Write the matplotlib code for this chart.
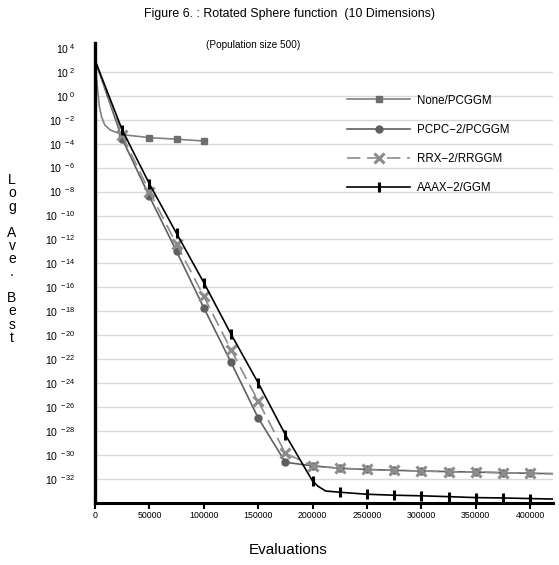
import numpy as np
import matplotlib
matplotlib.use("Agg")
import matplotlib.pyplot as plt
from matplotlib.legend_handler import HandlerLine2D
from matplotlib.ticker import FuncFormatter, FixedLocator

plt.rcParams['font.family'] = ['Liberation Sans', 'DejaVu Sans']
plt.rcParams['mathtext.fontset'] = 'custom'
plt.rcParams['mathtext.rm'] = 'Liberation Sans'
plt.rcParams['mathtext.it'] = 'Liberation Sans:italic'
plt.rcParams['mathtext.bf'] = 'Liberation Sans:bold'

# data (log10 of average best)
marker_evals = [25000, 50000, 75000, 100000, 125000, 150000, 175000, 200000,
                225000, 250000, 275000, 300000, 325000, 350000, 375000, 400000]

none_x = [0, 2000, 4000, 6000, 9000, 14000, 25000, 50000, 75000, 100000]
none_log = [2.97, 0.9, -0.9, -1.75, -2.45, -2.86, -3.25, -3.5, -3.63, -3.78]

pcpc_x = [0, 25000, 50000, 75000, 100000, 125000, 150000, 175000, 200000,
          225000, 250000, 275000, 300000, 325000, 350000, 375000, 400000, 425000]
pcpc_log = [2.97, -3.6, -8.4, -13.0, -17.7, -22.25, -26.9, -30.6, -30.9,
            -31.1, -31.2, -31.27, -31.33, -31.38, -31.42, -31.47, -31.52, -31.56]

rrx_x = pcpc_x
rrx_log = [2.97, -3.3, -8.0, -12.4, -16.75, -21.2, -25.5, -29.85, -30.9,
           -31.1, -31.2, -31.27, -31.33, -31.38, -31.42, -31.47, -31.52, -31.56]

aaax_x = [0, 25000, 50000, 75000, 100000, 125000, 150000, 175000, 200000,
          205000, 212000, 225000, 250000, 275000, 300000, 325000, 350000,
          375000, 400000, 425000]
aaax_log = [2.97, -2.86, -7.36, -11.5, -15.6, -19.9, -23.97, -28.3, -32.17,
            -32.6, -33.0, -33.1, -33.27, -33.35, -33.4, -33.47, -33.55,
            -33.58, -33.63, -33.68]

ytick_exp = list(range(-32, 5, 2))
xticks = [0, 50000, 100000, 150000, 200000, 250000, 300000, 350000, 400000]


def marks(x):
    return [i for i, v in enumerate(x) if v in marker_evals]


class RightMarker(HandlerLine2D):
    # put the legend marker near the right end of the line, like Excel
    def get_xdata(self, legend, xdescent, ydescent, width, height, fontsize):
        xdata = np.array([-xdescent, -xdescent + width])
        return xdata, np.array([-xdescent + width * 0.87])


fig = plt.figure(figsize=(5.59, 5.65), dpi=100)
ax = fig.add_axes([95 / 559, 1 - 503 / 565, 458 / 559, 460 / 565])

ax.plot(none_x, 10.0 ** np.array(none_log), color='#808080', lw=1.2,
        marker='s', ms=5, mfc='#6e6e6e', mec='#6e6e6e',
        markevery=marks(none_x), label='None/PCGGM')
ax.plot(pcpc_x, 10.0 ** np.array(pcpc_log), color='#5f5f5f', lw=1.2,
        marker='o', ms=5, mfc='#5f5f5f', mec='#5f5f5f',
        markevery=marks(pcpc_x), label='PCPC\u22122/PCGGM')
ax.plot(rrx_x, 10.0 ** np.array(rrx_log), color='#8c8c8c', lw=1.2,
        dashes=(8, 4), marker='x', ms=6.5, mew=2.2, mec='#8c8c8c',
        markevery=marks(rrx_x), label='RRX\u22122/RRGGM')
ax.plot(aaax_x, 10.0 ** np.array(aaax_log), color='black', lw=1.2,
        marker='|', ms=7, mew=2.2, mec='black',
        markevery=marks(aaax_x), label='AAAX\u22122/GGM')

ax.set_yscale('log')
ax.set_ylim(1e-34, 10 ** 4.4)
ax.set_xlim(0, 421000)

ax.yaxis.set_major_locator(FixedLocator([10.0 ** e for e in ytick_exp]))
ax.yaxis.set_minor_locator(FixedLocator([]))
ax.yaxis.set_major_formatter(FuncFormatter(
    lambda v, p: r'$\mathregular{10^{\ %d}}$' % round(np.log10(v))))
ax.tick_params(axis='y', length=0, pad=14, labelsize=7.6)
ax.set_xticks(xticks)
ax.set_xticklabels([str(t) for t in xticks])
ax.tick_params(axis='x', length=4, width=1.5, direction='out', pad=2,
               labelsize=6.3)

ax.grid(axis='y', color='#d9d9d9', lw=1.0)
ax.get_ygridlines()[-1].set_visible(False)
ax.set_axisbelow(True)

for s in ['top', 'right']:
    ax.spines[s].set_visible(False)
ax.spines['left'].set_linewidth(2.4)
ax.spines['bottom'].set_linewidth(2.2)

ax.legend(loc='upper left', bbox_to_anchor=(0.55, 0.888), frameon=False,
          fontsize=8.3, handlelength=5.5, handletextpad=0.6, labelspacing=1.5,
          borderpad=0, borderaxespad=0,
          handler_map={matplotlib.lines.Line2D: RightMarker()})

fig.text(290 / 559, 1 - 14 / 565, 'Figure 6. : Rotated Sphere function  (10 Dimensions)',
         ha='center', va='center', fontsize=8.9)
fig.text(253 / 559, 1 - 45 / 565, '(Population size 500)',
         ha='center', va='center', fontsize=7.2)
fig.text(12 / 559, 1 - 259 / 565, 'L\no\ng\n\nA\nv\ne\n.\n\nB\ne\ns\nt',
         ha='center', va='center', fontsize=10, linespacing=0.92)
fig.text(288 / 559, 1 - 550 / 565, 'Evaluations', ha='center', va='center',
         fontsize=11)

fig.savefig('out.png', dpi=100)
